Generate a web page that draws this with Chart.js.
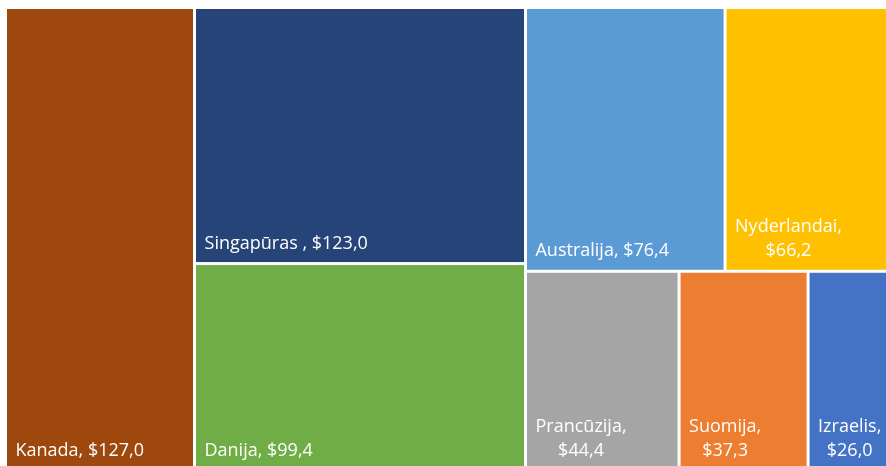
<!DOCTYPE html>
<html>
<head>
<meta charset="utf-8">
<script src="https://cdn.jsdelivr.net/npm/chart.js@4.4.1/dist/chart.umd.min.js"></script>
<style>
  html, body { margin: 0; padding: 0; background: #fff; overflow: hidden; }
  #wrap { position: absolute; left: 0; top: 0; width: 900px; height: 472px; }
</style>
</head>
<body>
<div id="wrap"><canvas id="tree" width="900" height="472"></canvas></div>
<script>
const countries = ['Kanada', 'Singapūras ', 'Danija', 'Australija', 'Nyderlandai', 'Prancūzija', 'Suomija', 'Izraelis'];
const values = [127.0, 123.0, 99.4, 76.4, 66.2, 44.4, 37.3, 26.0];
const colors = ['#9E480E', '#264478', '#70AD47', '#5B9BD5', '#FFC000', '#A5A5A5', '#ED7D31', '#4472C4'];

// how excel grouped the tiles: columns, the last one split in rows
const groups = [[0], [1, 2], [[3, 4], [5, 6, 7]]];

const sum = (idx) => idx.reduce((s, i) => s + values[i], 0);
const fmt = (v) => '$' + v.toFixed(1).replace('.', ',');

// rects in unit space (0..1 both ways)
const buildRects = () => {
  let rects = [];
  let total = values.reduce((a, b) => a + b, 0);
  let x = 0;
  groups.forEach((g) => {
    let flat = g.flat();
    let w = sum(flat) / total;
    if (Array.isArray(g[0])) {
      let y = 0;
      g.forEach((row) => {
        let h = sum(row) / sum(flat);
        let xx = x;
        row.forEach((i) => {
          let ww = values[i] / sum(row) * w;
          rects.push({i: i, x0: xx, x1: xx + ww, y0: y, y1: y + h});
          xx += ww;
        });
        y += h;
      });
    } else {
      let y = 0;
      g.forEach((i) => {
        let h = values[i] / sum(g);
        rects.push({i: i, x0: x, x1: x + w, y0: y, y1: y + h});
        y += h;
      });
    }
    x += w;
  });
  return rects;
};

const treemapPlugin = {
  id: 'treemap',
  afterDraw: (chart) => {
    let ctx = chart.ctx;
    let xs = chart.scales.x, ys = chart.scales.y;
    let gap = 1.5;
    ctx.save();
    buildRects().forEach((r) => {
      let left = xs.getPixelForValue(r.x0) + gap;
      let right = xs.getPixelForValue(r.x1) - gap;
      let top = ys.getPixelForValue(r.y0) + gap;
      let bottom = ys.getPixelForValue(r.y1) - gap;
      ctx.fillStyle = colors[r.i];
      ctx.fillRect(left, top, right - left, bottom - top);

      // label, bottom left, wrapped when the tile is narrow
      ctx.font = '18px "Open Sans"';
      ctx.fillStyle = '#fff';
      ctx.textBaseline = 'alphabetic';
      let text = countries[r.i] + ', ' + fmt(values[r.i]);
      let lines = [text];
      if (ctx.measureText(text).width > 0.85 * (right - left)) {
        lines = [countries[r.i] + ',', fmt(values[r.i])];
      }
      let widths = lines.map((l) => ctx.measureText(l).width);
      let maxW = Math.max(...widths);
      let lh = 24;
      let base = bottom - 13.5 - (lines.length - 1) * lh;
      lines.forEach((l, k) => {
        let tx = left + 8.5 + (maxW - widths[k]) / 2;
        ctx.fillText(l, tx, base + k * lh);
      });
    });
    ctx.restore();
  }
};

new Chart(document.getElementById('tree'), {
  type: 'scatter',
  data: { datasets: [] },
  options: {
    responsive: false,
    animation: false,
    layout: { padding: { left: 5.5, top: 7.5, right: 2, bottom: 1.5 } },
    scales: {
      x: { type: 'linear', min: 0, max: 1, display: false },
      y: { type: 'linear', min: 0, max: 1, reverse: true, display: false }
    },
    plugins: { legend: { display: false }, tooltip: { enabled: false } }
  },
  plugins: [treemapPlugin]
});
</script>
</body>
</html>
